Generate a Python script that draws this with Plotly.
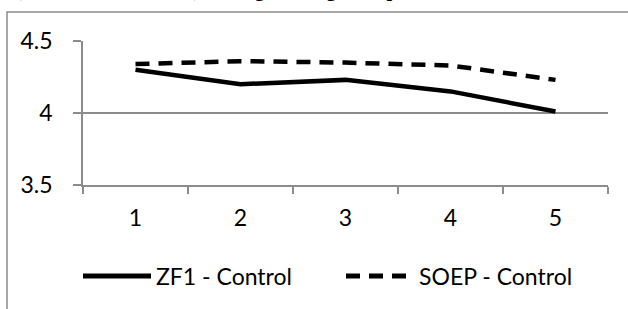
import plotly.graph_objects as go

categories = ["1", "2", "3", "4", "5"]
zf1_control = [4.30, 4.20, 4.23, 4.15, 4.01]
soep_control = [4.34, 4.36, 4.35, 4.33, 4.23]
y_ticks = [3.5, 4.0, 4.5]
y_tick_labels = ["3.5", "4", "4.5"]

FONT = "Lato"
GRID = "#8c8c8c"

fig = go.Figure()
fig.add_trace(go.Scatter(
    x=categories, y=zf1_control, mode="lines", name="ZF1 - Control",
    line=dict(color="black", width=4.5),
))
fig.add_trace(go.Scatter(
    x=categories, y=soep_control, mode="lines", name="SOEP - Control",
    line=dict(color="black", width=4.5, dash="14px,9px"),
))

fig.update_layout(
    width=628, height=309,
    margin=dict(l=83, r=20, t=41, b=124, autoexpand=False),
    paper_bgcolor="white", plot_bgcolor="white",
    font=dict(family=FONT, size=23, color="black"),
    showlegend=True,
    legend=dict(orientation="h", x=78 / 628, xref="container", xanchor="left",
                y=1 - 276 / 309, yref="container", yanchor="middle",
                itemwidth=68, font=dict(size=23), itemsizing="constant",
                entrywidth=180, entrywidthmode="pixels"),
    xaxis=dict(type="category", range=[-0.5, 4.5], showline=True, linecolor=GRID,
               linewidth=1.5, ticks="outside", tickson="boundaries", ticklen=7,
               tickcolor=GRID, tickwidth=1.5, showgrid=False, ticklabelstandoff=12),
    yaxis=dict(range=[3.5, 4.5], tickvals=y_ticks, ticktext=y_tick_labels,
               showline=True, linecolor=GRID, linewidth=1.5,
               ticks="outside", ticklen=8, tickcolor=GRID, tickwidth=1.5,
               showgrid=True, gridcolor=GRID, gridwidth=1.5, zeroline=False,
               ticklabelstandoff=16),
    shapes=[dict(type="rect", xref="paper", yref="paper",
                 x0=-76 / 525, x1=1.2, y0=-1.2, y1=1 + 29 / 144,
                 line=dict(color="#8c8c8c", width=1.5), fillcolor="rgba(0,0,0,0)",
                 layer="below")],
    annotations=[dict(text="<b>(ZF1 and SOEP data) Average Rating Groups</b>",
                      xref="paper", yref="paper", x=-70 / 525, y=1 + 38 / 144,
                      xanchor="left", yanchor="bottom", showarrow=False,
                      font=dict(family="Liberation Serif", size=20, color="black"))],
)

fig.write_html("out.html", config={"displayModeBar": False},
               post_script="document.body.style.margin='0';")
